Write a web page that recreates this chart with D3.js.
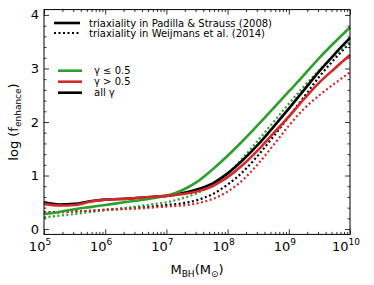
<!DOCTYPE html>
<html>
<head>
<meta charset="utf-8">
<script src="https://d3js.org/d3.v7.min.js"></script>
<style>
  body { margin: 0; background: #fff; }
  svg text { font-family: "DejaVu Sans", sans-serif; fill: #000; }
</style>
</head>
<body>
<svg id="chart" width="374" height="285"></svg>
<script>
// log10 of black hole mass
var logM = [5, 5.25, 5.5, 5.75, 6, 6.25, 6.5, 6.75, 7, 7.25, 7.5, 7.75, 8, 8.25, 8.5, 8.75, 9, 9.25, 9.5, 9.75, 10];

// triaxiality in Padilla & Strauss (2008) - solid
var greenSolid = [0.28, 0.32, 0.37, 0.41, 0.45, 0.49, 0.53, 0.57, 0.62, 0.72, 0.88, 1.11, 1.37, 1.65, 1.95, 2.26, 2.57, 2.88, 3.20, 3.49, 3.77];
var redSolid   = [0.47, 0.44, 0.45, 0.51, 0.55, 0.56, 0.58, 0.60, 0.62, 0.65, 0.70, 0.80, 0.97, 1.20, 1.48, 1.79, 2.10, 2.43, 2.74, 3.00, 3.25];
var blackSolid = [0.50, 0.46, 0.47, 0.52, 0.55, 0.56, 0.58, 0.60, 0.62, 0.67, 0.74, 0.85, 1.04, 1.29, 1.58, 1.91, 2.25, 2.60, 2.95, 3.27, 3.57];

// triaxiality in Weijmans et al. (2014) - dotted
var greenDot = [0.22, 0.25, 0.28, 0.32, 0.35, 0.38, 0.42, 0.46, 0.50, 0.57, 0.67, 0.82, 1.03, 1.33, 1.66, 2.00, 2.34, 2.67, 2.97, 3.25, 3.50];
var redDot   = [0.30, 0.31, 0.33, 0.34, 0.36, 0.37, 0.38, 0.40, 0.42, 0.44, 0.48, 0.56, 0.70, 0.92, 1.22, 1.57, 1.93, 2.25, 2.50, 2.72, 2.93];
var blackDot = [0.31, 0.32, 0.33, 0.34, 0.36, 0.38, 0.40, 0.42, 0.45, 0.48, 0.54, 0.65, 0.83, 1.07, 1.38, 1.73, 2.10, 2.47, 2.85, 3.18, 3.48];

var xDecades = [5, 6, 7, 8, 9, 10];
var yTicks = [0, 1, 2, 3, 4];
var legendTop = ["triaxiality in Padilla & Strauss (2008)", "triaxiality in Weijmans et al. (2014)"];
var legendGamma = ["γ ≤ 0.5", "γ > 0.5", "all γ"];

var GREEN = "#2ca02c", RED = "#d62728", BLACK = "#000";

var svg = d3.select("#chart");
var L = 44, R = 350, T = 9.6, B = 234.4;

var x = d3.scaleLog().domain([1e5, 1e10]).range([L, R]);
var y = d3.scaleLinear().domain([-0.1, 4.1]).range([B, T]);

// minor ticks
var minorX = [];
xDecades.slice(0, -1).forEach(function(d) {
  for (var k = 2; k < 10; k++) minorX.push(k * Math.pow(10, d));
});
var majorX = xDecades.map(function(d) { return Math.pow(10, d); });
var minorY = d3.range(-0.0, 4.01, 0.2).filter(function(v) { return Math.abs(v - Math.round(v)) > 1e-6; });

function noLab() { return ""; }
function styleAxis(g) {
  g.select(".domain").remove();
  g.selectAll("line").attr("stroke", "#000").attr("stroke-width", 0.8);
}

svg.append("g").attr("transform", "translate(0," + B + ")")
  .call(d3.axisBottom(x).tickValues(majorX).tickSize(-5).tickFormat(noLab)).call(styleAxis);
svg.append("g").attr("transform", "translate(0," + B + ")")
  .call(d3.axisBottom(x).tickValues(minorX).tickSize(-2.5).tickFormat(noLab)).call(styleAxis);
svg.append("g").attr("transform", "translate(0," + T + ")")
  .call(d3.axisTop(x).tickValues(majorX).tickSize(-5).tickFormat(noLab)).call(styleAxis);
svg.append("g").attr("transform", "translate(0," + T + ")")
  .call(d3.axisTop(x).tickValues(minorX).tickSize(-2.5).tickFormat(noLab)).call(styleAxis);
svg.append("g").attr("transform", "translate(" + L + ",0)")
  .call(d3.axisLeft(y).tickValues(yTicks).tickSize(-5).tickFormat(noLab)).call(styleAxis);
svg.append("g").attr("transform", "translate(" + L + ",0)")
  .call(d3.axisLeft(y).tickValues(minorY).tickSize(-2.5).tickFormat(noLab)).call(styleAxis);
svg.append("g").attr("transform", "translate(" + R + ",0)")
  .call(d3.axisRight(y).tickValues(yTicks).tickSize(-5).tickFormat(noLab)).call(styleAxis);
svg.append("g").attr("transform", "translate(" + R + ",0)")
  .call(d3.axisRight(y).tickValues(minorY).tickSize(-2.5).tickFormat(noLab)).call(styleAxis);

// tick labels
var xl = svg.append("g").selectAll("text").data(xDecades).enter().append("text")
  .attr("x", function(d) { return x(Math.pow(10, d)) - 4; })
  .attr("y", 251)
  .attr("text-anchor", "middle")
  .style("font-size", "13px");
xl.append("tspan").text("10");
xl.append("tspan").attr("dy", -6).style("font-size", "9px").text(function(d) { return d; });

svg.append("g").selectAll("text").data(yTicks).enter().append("text")
  .attr("x", L - 5)
  .attr("y", function(d) { return y(d) + 4.5; })
  .attr("text-anchor", "end")
  .style("font-size", "13px")
  .text(function(d) { return d; });

// axis titles
var xt = svg.append("text").attr("x", (L + R) / 2).attr("y", 274)
  .attr("text-anchor", "middle").style("font-size", "13px");
xt.append("tspan").text("M");
xt.append("tspan").attr("dy", 3).style("font-size", "9px").text("BH");
xt.append("tspan").attr("dy", -3).text("(M");
xt.append("tspan").attr("dy", 3).style("font-size", "9px").text("⊙");
xt.append("tspan").attr("dy", -3).text(")");

var yt = svg.append("text")
  .attr("transform", "translate(18," + ((T + B) / 2) + ") rotate(-90)")
  .attr("text-anchor", "middle").style("font-size", "13px");
yt.append("tspan").text("log (f");
yt.append("tspan").attr("dy", 3).style("font-size", "9px").text("enhance");
yt.append("tspan").attr("dy", -3).text(")");

// curves
var line = d3.line()
  .x(function(d) { return x(Math.pow(10, d[0])); })
  .y(function(d) { return y(d[1]); })
  .curve(d3.curveMonotoneX);

var series = [
  { v: blackDot, c: BLACK, dot: true },
  { v: greenDot, c: GREEN, dot: true },
  { v: redDot, c: RED, dot: true },
  { v: blackSolid, c: BLACK, dot: false },
  { v: greenSolid, c: GREEN, dot: false },
  { v: redSolid, c: RED, dot: false }
];
var plot = svg.append("g");
series.forEach(function(s) {
  plot.append("path")
    .datum(logM.map(function(m, i) { return [m, s.v[i]]; }))
    .attr("d", line)
    .attr("fill", "none")
    .attr("stroke", s.c)
    .attr("stroke-width", s.dot ? 2.2 : 2.6)
    .attr("stroke-dasharray", s.dot ? "2,2.5" : null);
});

// frame
svg.append("rect").attr("x", L).attr("y", T).attr("width", R - L).attr("height", B - T)
  .attr("fill", "none").attr("stroke", "#000").attr("stroke-width", 1);

// legend 1
var lg1 = svg.append("g");
legendTop.forEach(function(t, i) {
  var yy = 23 + i * 10;
  lg1.append("line").attr("x1", 54).attr("x2", 80).attr("y1", yy).attr("y2", yy)
    .attr("stroke", "#000").attr("stroke-width", i === 0 ? 2.6 : 2.2)
    .attr("stroke-dasharray", i === 0 ? null : "2,2.5");
  lg1.append("text").attr("x", 89).attr("y", yy + 3.5).style("font-size", "10px").text(t);
});

// legend 2
var gammaColors = [GREEN, RED, BLACK];
legendGamma.forEach(function(t, i) {
  var yy = 70.7 + i * 11;
  lg1.append("line").attr("x1", 58).attr("x2", 82).attr("y1", yy).attr("y2", yy)
    .attr("stroke", gammaColors[i]).attr("stroke-width", 2.6);
  lg1.append("text").attr("x", 94).attr("y", yy + 3.5).style("font-size", "10px").text(t);
});
</script>
</body>
</html>
